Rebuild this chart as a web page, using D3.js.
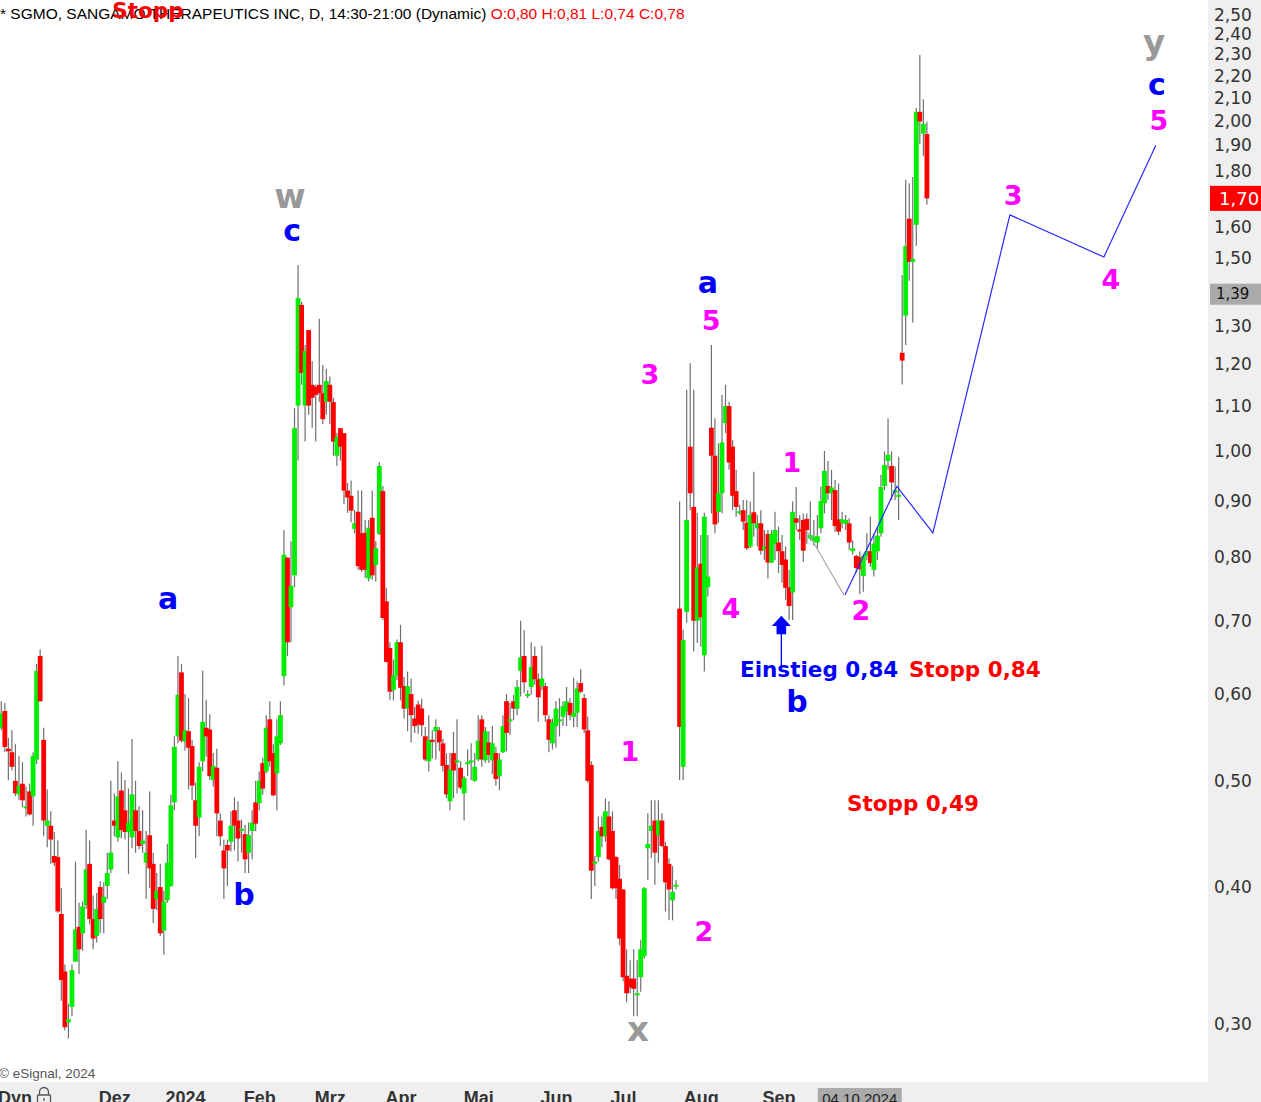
<!DOCTYPE html>
<html><head><meta charset="utf-8">
<script src="https://cdn.jsdelivr.net/npm/d3@7"></script>
<style>html,body{margin:0;padding:0;background:#fff;overflow:hidden}svg{display:block}</style>
</head><body>
<svg id="chart" width="1261" height="1102"></svg>
<script>
// ---- data (daily candles, index 0..262; index 243 = 04.10.2024) ----
const opens = [.559,.579,.535,.531,.500,.486,.497,.473,.489,.484,.523,.650,.545,.455,.455,.427,.426,.378,.335,.301,
.311,.342,.368,.363,.385,.420,.374,.361,.400,.387,.401,.415,.460,.444,.490,.470,.449,.444,.470,.450,
.438,.421,.446,.420,.390,.400,.365,.389,.401,.478,.549,.628,.543,.555,.538,.480,.463,.521,.559,.557,
.501,.514,.460,.432,.437,.440,.470,.460,.450,.447,.430,.450,.478,.477,.519,.510,.569,.530,.508,.541,
.623,.799,.720,.770,1.100,1.359,1.100,1.289,1.149,1.144,1.149,1.129,1.109,1.149,1.108,.990,1.049,1.038,.920,.910,
.849,.880,.841,.842,.765,.869,.787,.840,.919,.729,.661,.605,.624,.669,.610,.582,.600,.570,.587,.582,
.549,.521,.545,.555,.556,.541,.517,.479,.530,.520,.514,.487,.518,.521,.500,.523,.569,.522,.542,.522,
.530,.505,.531,.591,.567,.591,.582,.630,.650,.598,.609,.650,.619,.610,.610,.569,.541,.561,.567,.572,
.578,.589,.572,.577,.614,.595,.556,.517,.421,.426,.454,.445,.464,.450,.426,.407,.398,.332,.330,.330,
.319,.331,.346,.434,.450,.460,.446,.460,.436,.420,.389,.401,.718,.515,.713,1.009,.889,.700,.789,.651,
.751,1.050,.990,.880,.915,1.060,1.099,1.009,.919,.878,.883,.860,.818,.879,.850,.859,.813,.840,.791,.823,
.825,.810,.796,.751,.743,.868,.848,.865,.867,.832,.827,.825,.850,.896,.929,.915,.921,.866,.860,.858,
.859,.810,.802,.80,.769,.802,.810,.779,.810,.841,.929,.979,.969,.916,.908,1.229,1.329,1.629,1.488,1.608,
2.039,1.948,1.946];
const highs = [.591,.589,.547,.556,.540,.527,.520,.494,.497,.531,.639,.659,.559,.491,.469,.449,.441,.399,.340,.313,
.340,.422,.387,.388,.451,.441,.393,.395,.405,.404,.430,.500,.487,.521,.509,.501,.492,.546,.500,.474,
.470,.450,.489,.430,.412,.420,.397,.438,.486,.549,.650,.639,.600,.595,.545,.498,.520,.630,.593,.575,
.530,.535,.467,.442,.442,.469,.483,.479,.461,.456,.458,.470,.500,.510,.525,.574,.591,.540,.569,.591,
.847,.800,.827,1.094,1.478,1.368,1.249,1.289,1.208,1.149,1.320,1.198,1.188,1.169,1.118,1.039,1.049,1.038,.935,.940,
.883,.920,.920,.865,.865,.920,.827,.977,.929,.750,.669,.645,.673,.694,.622,.629,.620,.584,.592,.594,
.560,.574,.556,.569,.560,.546,.530,.530,.554,.569,.521,.505,.534,.541,.530,.574,.574,.560,.555,.561,
.537,.530,.574,.600,.589,.599,.618,.700,.686,.605,.669,.663,.627,.664,.614,.574,.570,.591,.595,.591,
.609,.595,.621,.616,.632,.600,.572,.521,.427,.464,.464,.482,.479,.469,.427,.419,.398,.351,.343,.351,
.343,.358,.400,.467,.480,.480,.480,.467,.440,.425,.418,.406,.899,.687,1.137,1.202,1.137,.878,.838,.878,
.838,1.249,1.071,1.016,1.125,1.149,1.109,1.023,.961,.893,.902,.902,.899,.957,.874,.883,.847,.847,.847,.880,
.853,.838,.818,.779,.899,.927,.874,.877,.877,.899,.865,.874,.928,1.000,.979,.961,.941,.934,.880,.874,
.868,.829,.804,.81,.806,.841,.871,.841,.853,.951,.999,1.071,.999,.968,.988,1.447,1.767,1.755,1.778,2.055,
2.298,2.094,1.996];
const lows = [.556,.531,.501,.511,.484,.480,.473,.464,.465,.455,.518,.591,.445,.435,.420,.418,.379,.315,.296,.291,
.305,.342,.333,.350,.382,.370,.351,.356,.363,.363,.390,.412,.445,.440,.443,.442,.411,.434,.430,.433,
.430,.390,.399,.371,.381,.361,.347,.387,.400,.470,.541,.542,.533,.491,.480,.425,.445,.510,.526,.501,
.494,.445,.436,.390,.401,.431,.432,.422,.430,.412,.412,.424,.450,.470,.486,.508,.515,.484,.470,.539,
.611,.650,.669,.751,.980,1.149,1.020,1.079,1.050,1.020,1.109,1.058,1.079,1.058,.990,.969,.980,.894,.878,.861,
.841,.779,.776,.766,.760,.763,.760,.838,.701,.641,.593,.592,.618,.592,.570,.555,.542,.553,.552,.549,
.521,.510,.524,.523,.532,.510,.482,.470,.482,.487,.491,.460,.505,.501,.499,.521,.515,.519,.519,.507,
.495,.490,.530,.532,.551,.568,.574,.597,.601,.595,.599,.612,.566,.605,.566,.531,.534,.536,.549,.561,
.561,.568,.560,.560,.601,.553,.498,.390,.401,.422,.435,.440,.423,.398,.390,.354,.328,.314,.320,.305,
.305,.321,.344,.406,.425,.402,.421,.435,.380,.373,.373,.398,.501,.501,.697,.883,.656,.668,.663,.629,
.736,.877,.841,.860,.877,1.038,.961,.883,.871,.874,.847,.812,.815,.835,.818,.804,.795,.765,.790,.795,
.774,.758,.731,.701,.701,.847,.829,.792,.823,.829,.820,.815,.841,.877,.902,.865,.844,.838,.850,.847,
.812,.804,.774,.74,.744,.795,.784,.768,.795,.835,.921,.961,.902,.902,.865,1.150,1.249,1.430,1.310,1.539,
1.907,1.859,1.678];
const closes = [.576,.537,.532,.515,.487,.495,.480,.474,.466,.527,.630,.591,.460,.460,.442,.421,.380,.329,.298,.303,
.336,.366,.351,.384,.415,.374,.359,.382,.374,.392,.412,.430,.455,.484,.451,.449,.458,.486,.450,.436,
.441,.430,.416,.382,.397,.363,.388,.421,.475,.537,.599,.544,.556,.536,.495,.455,.515,.566,.549,.505,
.516,.467,.445,.416,.432,.455,.455,.443,.452,.424,.446,.458,.457,.500,.492,.559,.521,.485,.549,.574,
.804,.669,.753,1.049,1.379,1.178,1.234,1.100,1.118,1.125,1.129,1.069,1.158,1.109,1.020,1.030,1.009,.920,.907,.882,
.859,.785,.779,.779,.851,.770,.815,.969,.704,.642,.603,.624,.669,.608,.582,.610,.574,.561,.563,.562,
.523,.545,.543,.560,.542,.516,.486,.512,.511,.522,.493,.503,.520,.522,.515,.544,.523,.555,.528,.541,
.502,.523,.561,.553,.569,.582,.609,.648,.615,.600,.635,.619,.596,.620,.574,.545,.565,.582,.569,.585,
.591,.574,.577,.607,.603,.557,.500,.414,.422,.450,.445,.469,.424,.399,.399,.359,.331,.320,.324,.323,
.320,.351,.399,.438,.455,.430,.460,.436,.404,.398,.396,.402,.560,.672,.865,.915,.700,.783,.705,.871,
.768,.990,.857,.915,1.018,1.099,.976,.910,.889,.881,.862,.815,.874,.859,.859,.811,.818,.791,.840,.847,
.810,.787,.750,.722,.880,.860,.844,.811,.847,.838,.834,.836,.900,.959,.915,.926,.854,.844,.866,.865,
.825,.815,.782,.78,.802,.810,.790,.823,.837,.927,.971,.992,.936,.921,.912,1.209,1.538,1.488,1.497,2.039,
1.998,1.988,1.70];

const priceTicks = [2.5,2.4,2.3,2.2,2.1,2.0,1.9,1.8,1.6,1.5,1.3,1.2,1.1,1.0,0.9,0.8,0.7,0.6,0.5,0.4,0.3];
const monthLabels = ["Dez","2024","Feb","Mrz","Apr","Mai","Jun","Jul","Aug","Sep"];
const monthIndex  = [32,52,73,93,113,135,157,176,198,220];
const lastPrice = 1.70;
const crossPrice = 1.39;
const crossIndex = 243, crossDate = "04.10.2024";

// annotation paths [index, price]
const blueProjection = [[238.8,0.739],[253.5,0.928],[263.7,0.842],[285.5,1.642],[312.1,1.503],[326.8,1.901]];
const grayPath = [[228.3,0.842],[238.5,0.739]];
const arrowTip = [220.8,0.7075], arrowTail = [220.8,0.635];

// wave / text labels inside the plot: [index, price(baseline), text, colour, size, anchor]
const waveLabels = [
 [81.7,1.666,"w","#999999",34,"middle"],
 [82.3,1.555,"c","#0000ff",30,"middle"],
 [47.2,0.7175,"a","#0000ff",30,"middle"],
 [68.7,0.3853,"b","#0000ff",30,"middle"],
 [180.2,0.2895,"x","#999999",34,"middle"],
 [177.9,0.5214,"1","#ff00ff",27,"middle"],
 [198.9,0.3572,"2","#ff00ff",27,"middle"],
 [183.6,1.151,"3","#ff00ff",27,"middle"],
 [200.9,1.289,"5","#ff00ff",27,"middle"],
 [200.0,1.394,"a","#0000ff",30,"middle"],
 [206.5,0.7041,"4","#ff00ff",27,"middle"],
 [223.8,0.9568,"1","#ff00ff",27,"middle"],
 [243.3,0.7012,"2","#ff00ff",27,"middle"],
 [225.2,0.5779,"b","#0000ff",30,"middle"],
 [286.4,1.677,"3","#ff00ff",27,"middle"],
 [314.1,1.405,"4","#ff00ff",27,"middle"],
 [326.3,2.303,"y","#999999",34,"middle"],
 [327.1,2.113,"c","#0000ff",30,"middle"],
 [327.7,1.963,"5","#ff00ff",27,"middle"],
 [209.1,0.622,"Einstieg 0,84","#0000ff",21.5,"start"],
 [256.9,0.622,"Stopp 0,84","#ff0000",21.5,"start"],
 [239.4,0.4694,"Stopp 0,49","#ff0000",21.5,"start"]
];
// the stray "Stopp" that sits over the title line
const topStopp = [31.4,2.484,"Stopp","#ff0000",21.5,"start"];

// ---- layout ----
const W = 1261, H = 1102, plotR = 1208, plotB = 1082;
const svg = d3.select("#chart");
const x = d3.scaleLinear().domain([0, 262]).range([1.3, 926.9]);
const y = d3.scaleLog().domain([0.3, 2.5]).range([1024, 14.8]);
const fmt = v => d3.format(".2f")(v).replace(".", ",");

svg.append("rect").attr("width", W).attr("height", H).attr("fill", "#ffffff");
svg.append("rect").attr("x", plotR).attr("y", 0).attr("width", W - plotR).attr("height", H).attr("fill", "#efefef");
svg.append("rect").attr("x", 0).attr("y", plotB).attr("width", W).attr("height", H - plotB).attr("fill", "#efefef");

svg.append("defs").append("clipPath").attr("id", "clip")
  .append("rect").attr("width", plotR).attr("height", plotB);
const plot = svg.append("g").attr("clip-path", "url(#clip)");

// candles
const candles = opens.map((o, i) => ({ i, o, h: highs[i], l: lows[i], c: closes[i] }));
const cg = plot.selectAll("g.candle").data(candles).join("g").attr("class", "candle");
cg.append("line")
  .attr("x1", d => x(d.i)).attr("x2", d => x(d.i))
  .attr("y1", d => y(d.h)).attr("y2", d => y(d.l))
  .attr("stroke", "#6f6f6f").attr("stroke-width", 1.2);
cg.append("rect")
  .attr("x", d => x(d.i) - 2.4).attr("width", 4.8)
  .attr("y", d => y(Math.max(d.o, d.c)))
  .attr("height", d => Math.max(2, y(Math.min(d.o, d.c)) - y(Math.max(d.o, d.c))))
  .attr("fill", d => d.c >= d.o ? "#00ee00" : "#ff0000");

// annotation lines
const line = d3.line().x(d => x(d[0])).y(d => y(d[1]));
plot.append("path").attr("d", line(grayPath)).attr("fill", "none").attr("stroke", "#a8a8a8").attr("stroke-width", 1.1);
plot.append("path").attr("d", line(blueProjection)).attr("fill", "none").attr("stroke", "#2a2aff").attr("stroke-width", 1.2);

// arrow
const ax = x(arrowTip[0]), ay = y(arrowTip[1]);
plot.append("line").attr("x1", ax).attr("x2", ax).attr("y1", ay + 18).attr("y2", y(arrowTail[1]))
  .attr("stroke", "#0000ff").attr("stroke-width", 1.3);
plot.append("path")
  .attr("d", `M${ax},${ay} L${ax + 9.5},${ay + 10.3} L${ax + 4.8},${ay + 10.3} L${ax + 4.8},${ay + 18.6} L${ax - 4.8},${ay + 18.6} L${ax - 4.8},${ay + 10.3} L${ax - 9.5},${ay + 10.3} Z`)
  .attr("fill", "#0000ff");

// labels
plot.selectAll("text.wave").data(waveLabels).join("text").attr("class", "wave")
  .attr("x", d => x(d[0])).attr("y", d => y(d[1]))
  .attr("text-anchor", d => d[5])
  .attr("font-family", "'DejaVu Sans', Verdana, sans-serif").attr("font-weight", "bold")
  .attr("font-size", d => d[4]).attr("fill", d => d[3]).text(d => d[2]);

// title
const title = svg.append("text").attr("x", 0).attr("y", 19)
  .attr("font-family", "'Liberation Sans', Arial, sans-serif").attr("font-size", 15.5);
title.append("tspan").attr("fill", "#000").text("* SGMO, SANGAMO THERAPEUTICS INC, D, 14:30-21:00 (Dynamic) ");
title.append("tspan").attr("fill", "#ff0000").text("O:0,80 H:0,81 L:0,74 C:0,78");
// stray "Stopp" drawn over the title, as in the reference
svg.append("text").attr("x", x(topStopp[0])).attr("y", y(topStopp[1]))
  .attr("font-family", "'DejaVu Sans', Verdana, sans-serif").attr("font-weight", "bold")
  .attr("font-size", topStopp[4]).attr("fill", topStopp[3]).text(topStopp[2]);

svg.append("text").attr("x", -1).attr("y", 1078)
  .attr("font-family", "'Liberation Sans', Arial, sans-serif").attr("font-size", 13.5).attr("fill", "#555")
  .text("© eSignal, 2024");

// right price axis
const yAxis = d3.axisRight(y).tickValues(priceTicks).tickSize(0).tickPadding(6).tickFormat(fmt);
const ya = svg.append("g").attr("transform", `translate(${plotR},0)`).call(yAxis);
ya.select(".domain").remove();
ya.selectAll("text").attr("font-family", "'DejaVu Sans', Verdana, sans-serif").attr("font-size", 17).attr("fill", "#333");

// last price box
const ly = y(lastPrice);
svg.append("rect").attr("x", plotR + 2).attr("y", ly - 12.5).attr("width", W - plotR - 2).attr("height", 25).attr("fill", "#ff0000");
svg.append("text").attr("x", plotR + 11).attr("y", ly).attr("dy", "0.35em")
  .attr("font-family", "'DejaVu Sans', Verdana, sans-serif").attr("font-size", 18).attr("fill", "#fff").text(fmt(lastPrice));
// crosshair price box
const cy = y(crossPrice);
svg.append("rect").attr("x", plotR + 2).attr("y", cy - 10.5).attr("width", W - plotR - 2).attr("height", 21).attr("fill", "#aaaaaa");
svg.append("text").attr("x", plotR + 8).attr("y", cy).attr("dy", "0.35em")
  .attr("font-family", "'DejaVu Sans', Verdana, sans-serif").attr("font-size", 15).attr("fill", "#111").text(fmt(crossPrice));

// bottom time axis
const xAxis = d3.axisBottom(x).tickValues(monthIndex).tickSize(0).tickFormat((d, k) => monthLabels[k]);
const xa = svg.append("g").attr("transform", `translate(0,${plotB})`).call(xAxis);
xa.select(".domain").remove();
xa.selectAll("text").attr("y", 22).attr("dy", 0)
  .attr("font-family", "'Liberation Sans', Arial, sans-serif").attr("font-weight", "bold")
  .attr("font-size", 18).attr("fill", "#333");

// crosshair date box
const cx = x(crossIndex);
svg.append("rect").attr("x", cx - 42).attr("y", plotB + 6).attr("width", 84).attr("height", H - plotB - 6).attr("fill", "#aaaaaa");
svg.append("text").attr("x", cx).attr("y", plotB + 22).attr("text-anchor", "middle")
  .attr("font-family", "'Liberation Sans', Arial, sans-serif").attr("font-size", 15).attr("fill", "#222").text(crossDate);

// "Dyn" + lock
svg.append("text").attr("x", -2).attr("y", plotB + 22)
  .attr("font-family", "'Liberation Sans', Arial, sans-serif").attr("font-weight", "bold")
  .attr("font-size", 18).attr("fill", "#333").text("Dyn");
const lk = svg.append("g").attr("transform", `translate(36,${plotB + 5})`).attr("fill", "none").attr("stroke", "#555").attr("stroke-width", 1.3);
lk.append("path").attr("d", "M3.5,8 V5 A4.5,4.5 0 0 1 12.5,5 V8");
lk.append("rect").attr("x", 1.5).attr("y", 8).attr("width", 13).attr("height", 10).attr("rx", 1);
lk.append("line").attr("x1", 8).attr("x2", 8).attr("y1", 11).attr("y2", 14);
</script>
</body></html>
